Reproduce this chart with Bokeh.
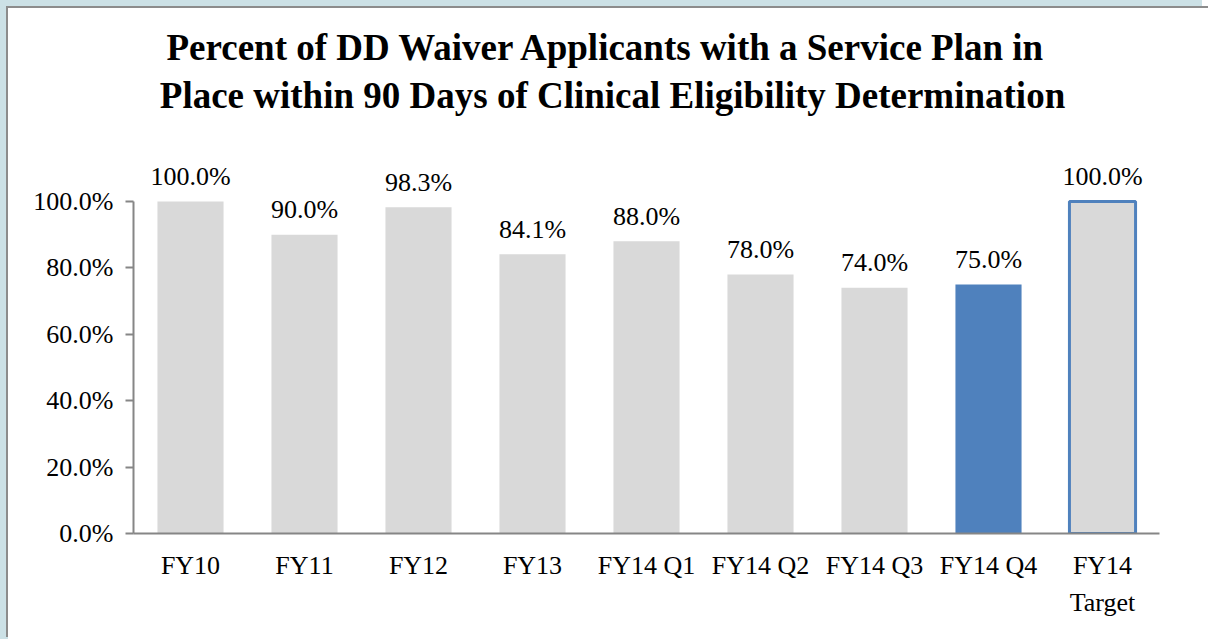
from bokeh.plotting import figure
from bokeh.models import ColumnDataSource, FixedTicker, NumeralTickFormatter, Range1d
from bokeh.core.properties import value
from bokeh.embed import file_html
from bokeh.resources import INLINE

categories = ["FY10", "FY11", "FY12", "FY13", "FY14 Q1", "FY14 Q2", "FY14 Q3", "FY14 Q4", "FY14\nTarget"]
values = [1.000, 0.900, 0.983, 0.841, 0.880, 0.780, 0.740, 0.750, 1.000]
labels = ["100.0%", "90.0%", "98.3%", "84.1%", "88.0%", "78.0%", "74.0%", "75.0%", "100.0%"]
fills = ["#d9d9d9"] * 7 + ["#4f81bd", "#d9d9d9"]
outlines = ["#d9d9d9"] * 7 + ["#4f81bd", "#4f81bd"]
outline_widths = [0] * 8 + [3]
title_lines = ["Percent of DD Waiver Applicants with a Service Plan in",
               "Place within 90 Days of Clinical Eligibility Determination"]

FONT = "Liberation Serif"
W, H = 1202, 631
LEFT, BOTTOM = 125, 106
PX_PER_UNIT = 332  # pixels for 100%
y_end = (H - BOTTOM) / PX_PER_UNIT

src = ColumnDataSource(dict(cat=categories, val=values, lab=labels, fill=fills,
                            line=outlines, lw=outline_widths))

p = figure(x_range=categories, y_range=Range1d(0, y_end), width=W, height=H,
           output_backend="svg", toolbar_location=None, title=None,
           min_border_left=LEFT, min_border_right=51, min_border_bottom=BOTTOM, min_border_top=0)
p.styles = {"box-shadow": "-2px -2px 0 0 #8c8c8c, -8px -8px 0 0 #cce1e6, -8px 0 0 0 #cce1e6"}
p.background_fill_color = "white"
p.border_fill_color = "white"
p.outline_line_color = None
p.grid.grid_line_color = None

p.vbar(x="cat", top="val", width=0.58, source=src, fill_color="fill",
       line_color="line", line_width="lw")
p.text(x="cat", y="val", text="lab", source=src, text_align="center",
       text_baseline="alphabetic", y_offset=-25, text_font=value(FONT),
       text_font_size="26px", text_color="#000000")

# chart title: two centred lines near the top of the frame
tsrc = ColumnDataSource(dict(x=[categories[4]] * 2, y=[y_end] * 2, t=title_lines,
                             dy=[39, 87], dx=[-40, -34]))
p.text(x="x", y="y", text="t", source=tsrc, x_offset="dx", y_offset="dy",
       text_align="center", text_baseline="middle", text_font=value(FONT),
       text_font_size="37px", text_font_style="bold", text_color="#000000")

ya = p.yaxis[0]
ya.ticker = FixedTicker(ticks=[0, 0.2, 0.4, 0.6, 0.8, 1.0])
ya.formatter = NumeralTickFormatter(format="0.0%")
ya.bounds = (0, 1.0)
ya.axis_line_color = "#868686"
ya.axis_line_width = 2
ya.major_tick_line_color = "#868686"
ya.major_tick_line_width = 2
ya.major_tick_out = 8
ya.major_tick_in = 0
ya.minor_tick_line_color = None
ya.major_label_text_font = FONT
ya.major_label_text_font_size = "26px"
ya.major_label_text_color = "#000000"
ya.major_label_standoff = 12

xa = p.xaxis[0]
xa.axis_line_color = "#868686"
xa.axis_line_width = 2
xa.major_tick_line_color = None
xa.minor_tick_line_color = None
xa.major_label_text_font = FONT
xa.major_label_text_font_size = "26px"
xa.major_label_text_color = "#000000"
xa.major_label_text_line_height = 1.3
xa.major_label_standoff = 11

html = file_html(p, INLINE)
css = ("<style>html{background:#ffffff !important;} body{background:#ffffff !important; "
       "margin:0 !important; padding:8px 0 0 8px !important; overflow:hidden !important; "
       "box-sizing:border-box !important;}</style>")
html = html.replace("</head>", css + "</head>", 1)
open("out.html", "w").write(html)
